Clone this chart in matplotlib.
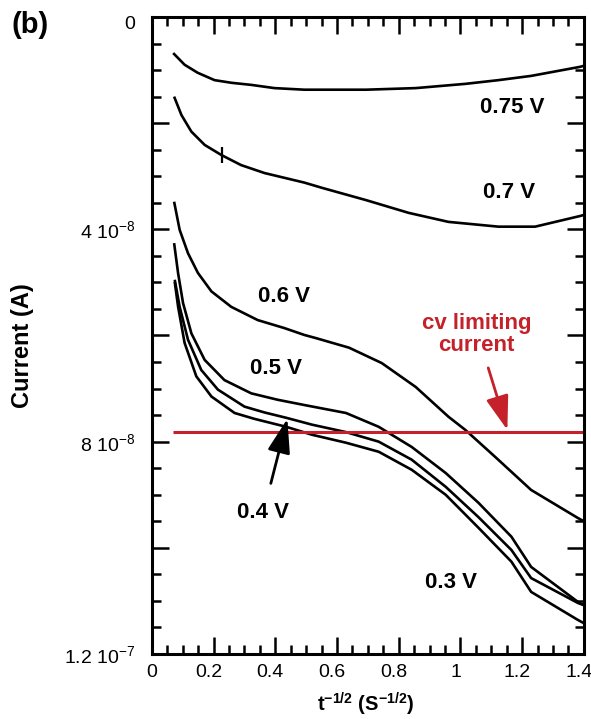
import numpy as np
import matplotlib
matplotlib.use("Agg")
import matplotlib.pyplot as plt
import matplotlib.transforms as mtransforms
from matplotlib.ticker import MultipleLocator, FuncFormatter

plt.rcParams["font.family"] = ["Liberation Sans", "DejaVu Sans"]
plt.rcParams["mathtext.default"] = "regular"
plt.rcParams["axes.unicode_minus"] = False

# current in units of 1e-8 A, x is t^-1/2
x_075 = [0.069, 0.106, 0.148, 0.203, 0.258, 0.323, 0.397, 0.494, 0.694, 0.855, 1.016, 1.123, 1.229, 1.387, 1.40]
i_075 = [0.68, 0.90, 1.05, 1.19, 1.24, 1.28, 1.34, 1.37, 1.37, 1.34, 1.26, 1.19, 1.11, 0.94, 0.92]

x_07 = [0.072, 0.096, 0.128, 0.171, 0.225, 0.289, 0.365, 0.494, 0.552, 0.694, 0.832, 0.961, 1.123, 1.242, 1.387, 1.40]
i_07 = [1.50, 1.85, 2.16, 2.41, 2.60, 2.79, 2.94, 3.12, 3.22, 3.45, 3.69, 3.86, 3.95, 3.95, 3.75, 3.73]

x_06 = [0.072, 0.090, 0.117, 0.149, 0.193, 0.257, 0.343, 0.429, 0.494, 0.532, 0.639, 0.745, 0.855, 0.961,
        1.016, 1.113, 1.229, 1.381, 1.40]
i_06 = [3.48, 4.01, 4.45, 4.82, 5.17, 5.46, 5.71, 5.86, 5.99, 6.05, 6.23, 6.52, 6.97, 7.53,
        7.78, 8.29, 8.91, 9.44, 9.50]

x_05 = [0.072, 0.085, 0.101, 0.128, 0.171, 0.235, 0.322, 0.407, 0.494, 0.629, 0.735, 0.842, 0.952,
        1.058, 1.165, 1.229, 1.381, 1.40]
i_05 = [4.26, 4.83, 5.39, 5.96, 6.46, 6.84, 7.09, 7.21, 7.31, 7.46, 7.72, 8.10, 8.59,
        9.15, 9.79, 10.36, 11.02, 11.08]

x_04 = [0.074, 0.090, 0.117, 0.160, 0.214, 0.300, 0.365, 0.435, 0.519, 0.629, 0.735, 0.842, 0.952,
        1.058, 1.165, 1.229, 1.381, 1.40]
i_04 = [4.95, 5.46, 6.08, 6.65, 7.02, 7.34, 7.45, 7.55, 7.68, 7.82, 8.00, 8.34, 8.85,
        9.42, 10.04, 10.57, 11.04, 11.08]

x_03 = [0.074, 0.085, 0.106, 0.144, 0.193, 0.268, 0.332, 0.435, 0.519, 0.629, 0.735, 0.842, 0.952,
        1.058, 1.165, 1.229, 1.381, 1.40]
i_03 = [4.99, 5.46, 6.14, 6.77, 7.15, 7.46, 7.57, 7.72, 7.87, 8.02, 8.19, 8.53, 9.00,
        9.62, 10.26, 10.83, 11.36, 11.42]

# small glitch on the 0.7 V trace
glitch_x = 0.228
glitch_i = 2.60

cv_limit = 7.82
cv_x = [0.068, 1.40]

red = "#c4212a"
scale = 1e-8

fig = plt.figure(figsize=(5.91, 7.19), dpi=100)
ax = fig.add_axes([0.257, 0.0904, 0.731, 0.886])

for xs, ys in [(x_075, i_075), (x_07, i_07), (x_06, i_06), (x_05, i_05), (x_04, i_04), (x_03, i_03)]:
    ax.plot(xs, np.array(ys) * scale, color="black", lw=1.9, solid_capstyle="butt", solid_joinstyle="round")
ax.plot([glitch_x], [glitch_i * scale], marker="|", color="black", markersize=11, mew=1.6)

ax.hlines(cv_limit * scale, cv_x[0], cv_x[1], color=red, lw=2.2)

ax.set_xlim(0, 1.4)
ax.set_ylim(1.2e-7, 0)

ax.xaxis.set_major_locator(MultipleLocator(0.2))
ax.xaxis.set_minor_locator(MultipleLocator(0.05))
ax.yaxis.set_major_locator(MultipleLocator(2e-8))
ax.yaxis.set_minor_locator(MultipleLocator(0.5e-8))


def xfmt(v, pos):
    if abs(v) < 1e-9:
        return "0"
    if abs(v - round(v)) < 1e-9:
        return "%d" % round(v)
    return "%.1f" % v


def yfmt(v, pos):
    n = int(round(v / 1e-8))
    if n == 0:
        return "0"
    if n % 4:
        return ""
    if n == 12:
        return "1.2 10$^{-7}$"
    return "%d 10$^{-8}$" % n


ax.xaxis.set_major_formatter(FuncFormatter(xfmt))
ax.yaxis.set_major_formatter(FuncFormatter(yfmt))

ax.tick_params(which="both", direction="in", top=True, right=True, width=1.8, labelsize=14)
ax.tick_params(which="major", length=12)
ax.tick_params(which="minor", length=6.5)
ax.tick_params(axis="y", pad=12)
ax.tick_params(axis="x", pad=7)
for s in ax.spines.values():
    s.set_linewidth(2.2)

ax.set_ylabel("Current (A)", fontsize=17, fontweight="bold")
ax.yaxis.set_label_coords(-0.273, 0.484)
ax.set_xlabel("t$^{-1/2}$ (S$^{-1/2}$)", fontsize=14.5, fontweight="bold")
ax.xaxis.set_label_coords(0.495, -0.058)

lab = dict(fontsize=16, fontweight="bold", ha="center", va="center")
ax.text(1.168, 1.71 * scale, "0.75 V", **lab)
ax.text(1.158, 3.31 * scale, "0.7 V", **lab)
ax.text(0.429, 5.27 * scale, "0.6 V", **lab)
ax.text(0.403, 6.63 * scale, "0.5 V", **lab)
ax.text(0.968, 10.66 * scale, "0.3 V", **lab)

ax.annotate("0.4 V", xy=(0.439, 7.57 * scale), xytext=(0.361, 9.34 * scale),
            fontsize=16, fontweight="bold", ha="center", va="center",
            arrowprops=dict(arrowstyle="-|>,head_length=1.5,head_width=0.5", mutation_scale=14,
                            color="black", lw=2, shrinkA=12, shrinkB=0))
ax.annotate("", xy=(1.152, 7.78 * scale), xytext=(1.090, 6.61 * scale),
            arrowprops=dict(arrowstyle="-|>,head_length=1.5,head_width=0.5", mutation_scale=14,
                            color=red, lw=2, shrinkA=0, shrinkB=0))
ax.text(1.052, 5.98 * scale, "cv limiting\ncurrent", color=red, fontsize=16, fontweight="bold",
        ha="center", va="center", linespacing=1.05)

fig.text(0.019, 0.965, "(b)", fontsize=21, fontweight="bold", ha="left", va="center")

# nudge tick labels the way the original is laid out
fig.canvas.draw()
shift_x = mtransforms.ScaledTranslation(-5 / 100, 0, fig.dpi_scale_trans)
for t in ax.xaxis.get_majorticklabels():
    if t.get_text() not in ("", "0"):
        t.set_transform(t.get_transform() + shift_x)
shift_y = mtransforms.ScaledTranslation(0, -6 / 100, fig.dpi_scale_trans)
for t in ax.yaxis.get_majorticklabels():
    if t.get_text() == "0":
        t.set_transform(t.get_transform() + shift_y)

fig.savefig("out.png", dpi=100)
